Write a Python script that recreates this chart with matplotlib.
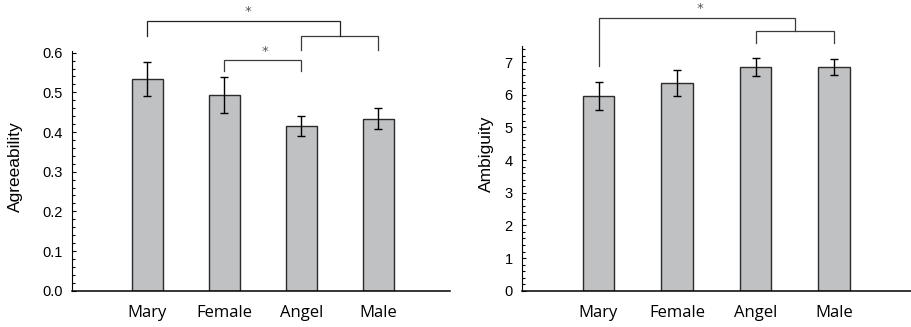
"""Two bar panels: agreeability and ambiguity by face category."""

import matplotlib.pyplot as plt
from matplotlib.ticker import MultipleLocator

categories = ["Mary", "Female", "Angel", "Male"]

agree_mean = [0.533, 0.493, 0.415, 0.434]
agree_err = [0.043, 0.045, 0.025, 0.026]

ambig_mean = [5.96, 6.35, 6.85, 6.84]
ambig_err = [0.44, 0.40, 0.27, 0.25]

BAR_COLOR = "#c0c1c3"
EDGE = "#2b2b2b"
BRACKET = "#3a3a3a"

fig = plt.figure(figsize=(9.11, 3.27), dpi=100)
ax1 = fig.add_axes([0.079, 0.111, 0.415, 0.734])
ax2 = fig.add_axes([0.5727, 0.111, 0.4273, 0.749])


def style_axis(ax, ylim, major, minor, xlim):
    x = range(len(categories))
    ax.set_xlim(*xlim)
    ax.set_ylim(*ylim)
    ax.yaxis.set_major_locator(MultipleLocator(major))
    ax.yaxis.set_minor_locator(MultipleLocator(minor))
    for s in ["top", "right"]:
        ax.spines[s].set_visible(False)
    ax.spines["left"].set_linewidth(0.8)
    ax.spines["bottom"].set_linewidth(1.1)
    ax.tick_params(axis="y", which="major", direction="in", length=3.2,
                   width=0.8, pad=6.5, labelsize=10.5)
    ax.tick_params(axis="y", which="minor", direction="in", length=2.2,
                   width=0.8)
    ax.tick_params(axis="x", length=0, pad=10)
    ax.set_xticks(list(x))
    ax.set_xticklabels(categories, fontsize=12, family="Open Sans")


def bracket(ax, x0, x1, y_top, y0, y1, color=BRACKET):
    ax.plot([x0, x0, x1, x1], [y0, y_top, y_top, y1], color=color,
            lw=0.9, clip_on=False, solid_joinstyle="miter")


x = list(range(len(categories)))

# left panel
ax1.bar(x, agree_mean, width=0.40, color=BAR_COLOR, edgecolor=EDGE,
        linewidth=1.0, zorder=2)
ax1.errorbar(x, agree_mean, yerr=agree_err, fmt="none", ecolor="black",
             elinewidth=1.0, capsize=3.2, capthick=1.0, zorder=3)
style_axis(ax1, (0, 0.605), 0.1, 0.02, (-0.98, 3.93))
ax1.yaxis.set_major_formatter(plt.FormatStrFormatter("%.1f"))
for lab in ax1.get_yticklabels():
    lab.set_family("Liberation Sans")
ax1.set_ylabel("Agreeability", fontsize=12.5, family="Liberation Sans")
ax1.yaxis.set_label_coords(-0.13, 0.515)

bracket(ax1, 2.0, 3.0, 0.642, 0.607, 0.607)
bracket(ax1, 0.0, 2.5, 0.681, 0.643, 0.642, color="#222222")
bracket(ax1, 1.0, 2.0, 0.5815, 0.5546, 0.5546)
ax1.text(1.305, 0.703, "*", ha="center", va="center", fontsize=9.5,
         color="#555555", clip_on=False)
ax1.text(1.526, 0.604, "*", ha="center", va="center", fontsize=9.5,
         color="#555555", clip_on=False)

# right panel
ax2.bar(x, ambig_mean, width=0.40, color=BAR_COLOR, edgecolor=EDGE,
        linewidth=1.0, zorder=2)
ax2.errorbar(x, ambig_mean, yerr=ambig_err, fmt="none", ecolor="black",
             elinewidth=1.0, capsize=3.2, capthick=1.0, zorder=3)
style_axis(ax2, (0, 7.5), 1, 0.2, (-0.978, 3.98))
for lab in ax2.get_yticklabels():
    lab.set_family("Liberation Sans")
ax2.set_ylabel("Ambiguity", fontsize=12.5, family="Liberation Sans")
ax2.yaxis.set_label_coords(-0.071, 0.558)

bracket(ax2, 2.0, 3.0, 7.96, 7.57, 7.57)
bracket(ax2, 0.0, 2.5, 8.34, 6.89, 7.96)
ax2.text(1.293, 8.64, "*", ha="center", va="center", fontsize=9.5,
         color="#555555", clip_on=False)

fig.savefig("out.png", dpi=100)
